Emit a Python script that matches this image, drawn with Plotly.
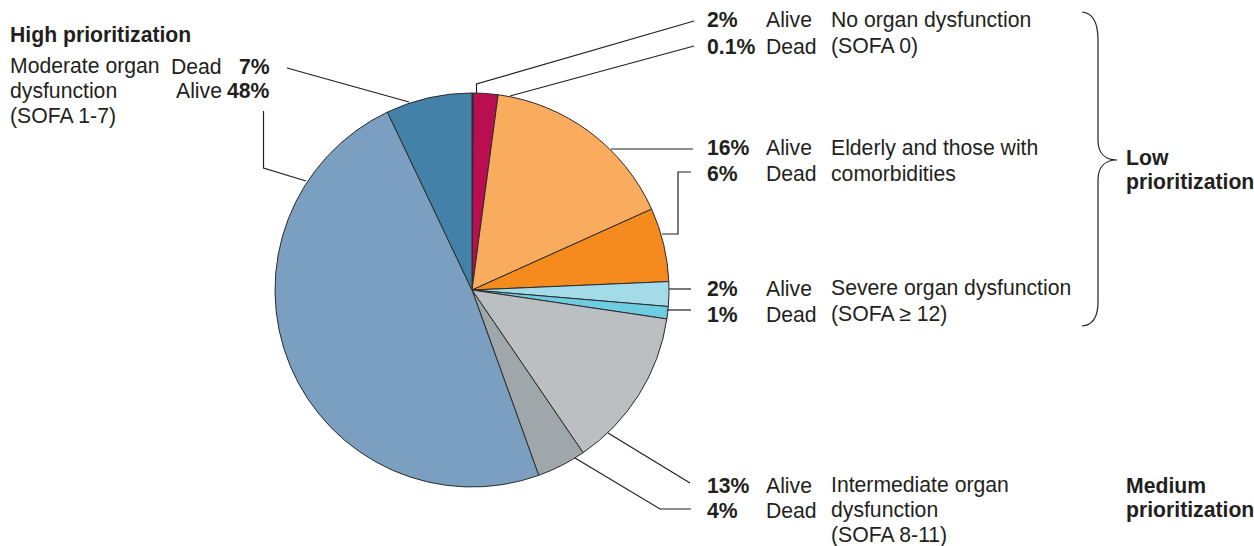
import plotly.graph_objects as go

W, H = 1254, 546

# Outcome shares (%) in clockwise order starting at 12 o'clock
groups = ["No organ dysfunction", "No organ dysfunction",
          "Elderly and comorbidities", "Elderly and comorbidities",
          "Severe organ dysfunction", "Severe organ dysfunction",
          "Intermediate organ dysfunction", "Intermediate organ dysfunction",
          "Moderate organ dysfunction", "Moderate organ dysfunction"]
outcomes = ["Dead", "Alive", "Alive", "Dead", "Alive", "Dead", "Alive", "Dead", "Alive", "Dead"]
shares = [0.1, 2, 16, 6, 2, 1, 13, 4, 48, 7]
share_labels = ["0.1%", "2%", "16%", "6%", "2%", "1%", "13%", "4%", "48%", "7%"]
colors = ["#5a1a35", "#b90e4f", "#f9ab5e", "#f58a1f", "#a3dbe8", "#6fcde1",
          "#bbbfc2", "#a0a7aa", "#7a9fc0", "#4481a8"]

INK = "#231f20"
FONT = "Liberation Sans, Arial, Helvetica, sans-serif"
FS = 21.2


def px(x):
    return x / W


def py(y):
    return 1 - y / H


# pie placement in pixels
cx, cy, r = 472, 290, 197

fig = go.Figure()
fig.add_trace(go.Pie(
    values=shares,
    labels=[f"{g} – {o}" for g, o in zip(groups, outcomes)],
    marker=dict(colors=colors, line=dict(color="#2b2b2b", width=1)),
    sort=False, direction="clockwise", rotation=0,
    textinfo="none", hoverinfo="label+value", showlegend=False,
    domain=dict(x=[px(cx - r), px(cx + r)], y=[py(cy + r), py(cy - r)]),
))

shapes = []


def polyline(pts):
    d = "M " + " L ".join(f"{px(x):.5f},{py(y):.5f}" for x, y in pts)
    shapes.append(dict(type="path", xref="paper", yref="paper", path=d,
                       line=dict(color=INK, width=1.2)))


# leader lines from slices to their labels
polyline([(476.5, 93), (476.5, 84), (694, 21)])
polyline([(510, 96), (694, 46)])
polyline([(611, 149), (693, 149)])
polyline([(662, 234), (678, 234), (678, 172), (691, 172)])
polyline([(669, 289), (691, 289)])
polyline([(667, 310), (691, 310)])
polyline([(608, 433), (690, 483)])
polyline([(575, 458), (660, 509), (691, 509)])
polyline([(287, 68), (409, 102)])
polyline([(263.5, 111), (263.5, 168), (306, 181)])

# curly brace grouping the low-prioritization rows
def P(x, y):
    return f"{px(x):.5f},{py(y):.5f}"

brace = (f"M {P(1082, 12)} C {P(1094, 13)} {P(1098, 24)} {P(1098, 40)} "
         f"L {P(1098, 140)} C {P(1098, 153)} {P(1105, 160)} {P(1117, 160)} "
         f"C {P(1105, 160)} {P(1098, 167)} {P(1098, 180)} "
         f"L {P(1098, 302)} C {P(1098, 316)} {P(1094, 325)} {P(1082, 326)}")
shapes.append(dict(type="path", xref="paper", yref="paper", path=brace,
                   line=dict(color=INK, width=1.2)))

annotations = []


def label(x, y, text, anchor="left", bold=False):
    if bold:
        text = f"<b>{text}</b>"
    annotations.append(dict(x=px(x), y=py(y), xref="paper", yref="paper",
                            text=text, showarrow=False, xanchor=anchor,
                            yanchor="middle",
                            font=dict(family=FONT, size=FS, color=INK)))


# left block
label(8, 35, "High prioritization", bold=True)
label(8, 66, "Moderate organ")
label(8, 91, "dysfunction")
label(8, 116, "(SOFA 1-7)")
label(224, 66, outcomes[9], anchor="right")
label(272, 66, share_labels[9], anchor="right", bold=True)
label(224, 91, outcomes[8], anchor="right")
label(272, 91, share_labels[8], anchor="right", bold=True)

# right block: percentage, outcome, description columns
XP, XS, XD = 705, 764, 829
rows = [
    (20, 1, "No organ dysfunction"),
    (46, 0, "(SOFA 0)"),
    (148, 2, "Elderly and those with"),
    (173, 3, "comorbidities"),
    (288, 4, "Severe organ dysfunction"),
    (314, 5, "(SOFA ≥ 12)"),
    (485, 6, "Intermediate organ"),
    (510, 7, "dysfunction"),
]
for y, i, desc in rows:
    label(XP, y, share_labels[i], bold=True)
    label(XS, y, outcomes[i])
    label(XD, y, desc)
label(XD, 535, "(SOFA 8-11)")

# group headings
label(1124, 157, "Low", bold=True)
label(1124, 182, "prioritization", bold=True)
label(1124, 485, "Medium", bold=True)
label(1124, 510, "prioritization", bold=True)

fig.update_layout(
    width=W, height=H,
    margin=dict(l=0, r=0, t=0, b=0),
    paper_bgcolor="white", plot_bgcolor="white",
    shapes=shapes, annotations=annotations,
)

fig.write_html("out.html")
